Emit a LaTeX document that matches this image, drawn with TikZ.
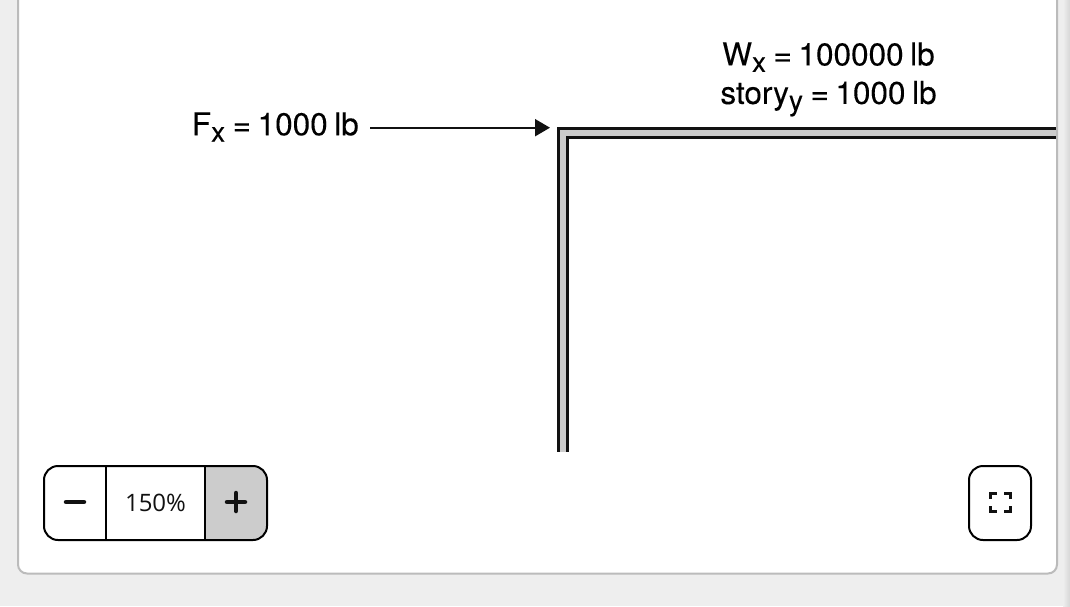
\documentclass[tikz,border=0pt]{standalone}
\usepackage{fontspec}
\setmainfont[WordSpace=0.75,FakeBold=0.12]{TeX Gyre Heros}
\newfontfamily\zoomfont{Open Sans}
\usetikzlibrary{arrows.meta}
\definecolor{pagegray}{HTML}{EEEEEE}
\definecolor{edgegray}{HTML}{BBBBBB}
\definecolor{framegray}{HTML}{CCCCCC}
\definecolor{inkblack}{HTML}{111111}
\newcommand\lowered[1]{\raisebox{-6.5pt}{\fontsize{28}{28}\selectfont #1}\kern1pt\relax}
\tikzset{
  loadlabel/.style={inner sep=0pt, font=\fontsize{31.5}{38.5}\selectfont, text=black, align=center},
  framebar/.style={line width=3pt, double=framegray, double distance=6pt, draw=inkblack, line join=miter},
  loadarrow/.style={-{Triangle[length=15pt,width=17pt]}, line width=2pt, draw=inkblack},
  button/.style={draw=black, line width=2pt},
  icon/.style={draw=inkblack, line width=4.5pt, line cap=round},
}
\begin{document}
\begin{tikzpicture}[x=1pt, y=-1pt]

  \useasboundingbox (0, 0) rectangle (1070, 606);
  \fill[pagegray] (0, 0) rectangle (1070, 606);
  \shade[left color=pagegray, right color=black!16] (1063, 0) rectangle (1070, 606);
  \fill[white, draw=edgegray, line width=2pt, rounded corners=9pt] (18, -20) rectangle (1057, 573.5);

  %% frame
  \draw[framebar] (1056, 132.5) -- (563, 132.5) -- (563, 452);

  %% loads
  \node[loadlabel, anchor=east] (load) at (359, 127) {F\lowered{x} = 1000 lb};
  \node[loadlabel] (gravity) at (828.5, 79.5) {W\lowered{x} = 100000 lb\\story\lowered{y} = 1000 lb};
  \coordinate (corner) at (550, 127.7);
  \draw[loadarrow] (load.east |- corner) ++(11, 0) -- (corner);

  %% zoom buttons
  \fill[framegray] (205, 466) [rounded corners=14pt] -- (267, 466) -- (267, 540) [sharp corners] -- (205, 540) -- cycle;
  \draw[button, rounded corners=14pt] (44, 466) rectangle (267, 540);
  \draw[button] (106, 466) -- (106, 540);
  \draw[button] (205, 466) -- (205, 540);
  \node[inner sep=0pt, font=\zoomfont\fontsize{24}{28}\selectfont, text=inkblack] (level) at (155.5, 503) {150\%};
  \draw[icon] (66, 502) -- (84, 502);
  \draw[icon] (227, 502) -- (245, 502);
  \draw[icon] (236, 493) -- (236, 511);

  %% fullscreen button
  \draw[button, rounded corners=14pt] (969, 466) rectangle (1031, 540);
  \foreach \sx/\sy in {990.5/493, 1010/493, 990.5/511.5, 1010/511.5} {
    \pgfmathsetmacro\dx{\sx < 1000 ? 6 : -6}
    \pgfmathsetmacro\dy{\sy < 500 ? 6 : -6}
    \draw[draw=inkblack, line width=3pt, line join=miter] (\sx+\dx, \sy) -- (\sx, \sy) -- (\sx, \sy+\dy);
  }

\end{tikzpicture}
\end{document}
